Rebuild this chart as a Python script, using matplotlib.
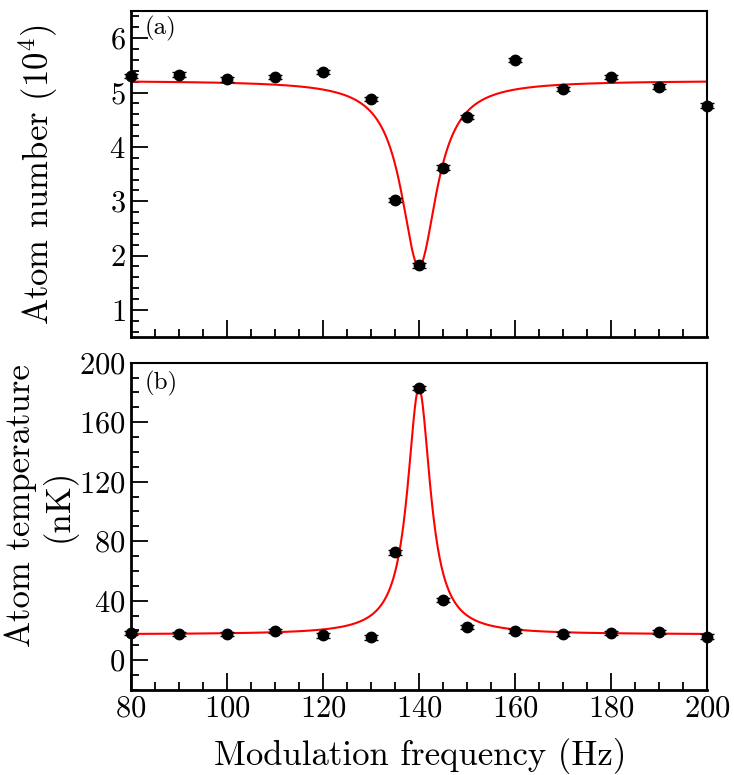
import numpy as np
import matplotlib
matplotlib.use("Agg")
import matplotlib.pyplot as plt
from matplotlib.ticker import MultipleLocator

plt.rcParams['font.family'] = ['cmr10', 'DejaVu Serif']
plt.rcParams['mathtext.fontset'] = 'cm'
plt.rcParams['axes.formatter.use_mathtext'] = True

# Data
freq = [80, 90, 100, 110, 120, 130, 135, 140, 145, 150, 160, 170, 180, 190, 200]
atom_number = [5.30, 5.33, 5.24, 5.29, 5.38, 4.88, 3.02, 1.82, 3.62, 4.55, 5.60, 5.07, 5.29, 5.11, 4.76]
atom_number_err = [0.04] * len(freq)
atom_temp = [18.4, 17.6, 17.6, 19.8, 16.7, 15.3, 72.5, 183.0, 40.5, 22.5, 19.8, 17.6, 18.4, 18.9, 15.8]
atom_temp_err = [1.5] * len(freq)

# Lorentzian fit parameters: baseline, amplitude, centre, half-width
fit_a = dict(base=5.22, amp=-3.42, x0=140.0, g=4.5)
fit_b = dict(base=17.3, amp=165.5, x0=140.0, g=2.9)


def lorentz(x, base, amp, x0, g):
    return base + amp / (1.0 + ((x - x0) / g) ** 2)


fig = plt.figure(figsize=(7.34, 7.75), dpi=100)
ax1 = fig.add_axes([0.1785, 0.565, 0.963 - 0.1785, 0.9858 - 0.565])
ax2 = fig.add_axes([0.1785, 0.1097, 0.963 - 0.1785, 0.532 - 0.1097])

xf = np.linspace(80, 200, 1201)

for ax, y, yerr, fit in [(ax1, atom_number, atom_number_err, fit_a),
                         (ax2, atom_temp, atom_temp_err, fit_b)]:
    ax.plot(xf, lorentz(xf, **fit), color='#ff0000', lw=1.5, zorder=2)
    ax.errorbar(freq, y, yerr=yerr, fmt='o', color='black', ms=7.5,
                capsize=5, elinewidth=1, capthick=1, zorder=3, clip_on=False)
    ax.set_xlim(80, 200)
    ax.xaxis.set_major_locator(MultipleLocator(20))
    ax.xaxis.set_minor_locator(MultipleLocator(5))
    ax.tick_params(which='both', direction='in', top=False, right=False,
                   labelsize=22, width=1.3)
    ax.tick_params(which='major', length=12)
    ax.tick_params(which='minor', length=6)
    ax.tick_params(axis='x', pad=4)
    ax.tick_params(axis='y', pad=4)
    for s in ['left', 'bottom']:
        ax.spines[s].set_linewidth(2)
    for s in ['top', 'right']:
        ax.spines[s].set_linewidth(1.5)

ax1.set_ylim(0.5, 6.5)
ax1.yaxis.set_major_locator(MultipleLocator(1))
ax1.yaxis.set_minor_locator(MultipleLocator(0.2))
ax1.tick_params(labelbottom=False)
ax1.set_ylabel(r'Atom number (10$^4$)', fontsize=25)
ax1.yaxis.set_label_coords(-0.123, 0.5)
ax1.text(0.024, 0.985, '(a)', transform=ax1.transAxes, fontsize=18,
         va='top', ha='left')

ax2.set_ylim(-20, 200)
ax2.yaxis.set_major_locator(MultipleLocator(40))
ax2.yaxis.set_minor_locator(MultipleLocator(10))
ax2.set_ylabel('Atom temperature\n(nK)', fontsize=25, linespacing=1.15)
ax2.yaxis.set_label_coords(-0.094, 0.563)
ax2.text(0.024, 0.975, '(b)', transform=ax2.transAxes, fontsize=18,
         va='top', ha='left')
ax2.set_xlabel('Modulation frequency (Hz)', fontsize=25)
ax2.xaxis.set_label_coords(0.503, -0.148)

fig.savefig('out.png', dpi=100)
